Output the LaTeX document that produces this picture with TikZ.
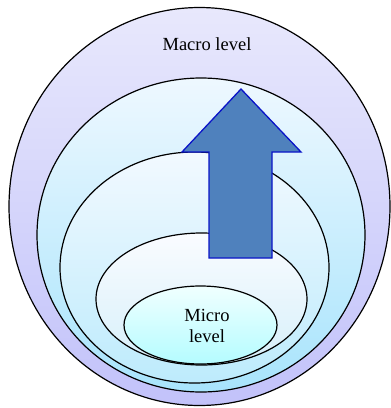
\documentclass[tikz,border=0pt]{standalone}
\usepackage{fontspec}
\setmainfont{Liberation Serif}
\definecolor{outtop}{HTML}{E8E8FC}
\definecolor{outbot}{HTML}{C2C2FA}
\definecolor{cyantop}{HTML}{EEF8FF}
\definecolor{cyanbot}{HTML}{A8E4FC}
\definecolor{midtop}{HTML}{F2F9FF}
\definecolor{midbot}{HTML}{BDEBFC}
\definecolor{lighttop}{HTML}{FAFCFF}
\definecolor{lightbot}{HTML}{D6EFFA}
\definecolor{microtop}{HTML}{F0FFFF}
\definecolor{microbot}{HTML}{B4FCFF}
\definecolor{arrowfill}{HTML}{4F81BD}
\definecolor{arrowline}{HTML}{0A14C8}
\tikzset{
  ring/.style={draw=black, line width=1.2pt},
  lbl/.style={font=\fontsize{18.5}{21}\selectfont, align=center, inner sep=0pt}
}
\begin{document}
\begin{tikzpicture}[x=1pt,y=-1pt]
\useasboundingbox (0,0) rectangle (391,408);
\path[ring, top color=outtop, bottom color=outbot] (199.5,206.5) ellipse [x radius=190.5pt, y radius=199pt];
\path[ring, top color=cyantop, bottom color=cyanbot] (201,235) ellipse [x radius=164pt, y radius=157pt];
\path[ring, top color=midtop, bottom color=midbot] (194.5,267.5) ellipse [x radius=134.5pt, y radius=115.5pt];
\path[ring, top color=lighttop, bottom color=lightbot] (201.5,299) ellipse [x radius=105.5pt, y radius=66pt];
\path[ring, top color=microtop, bottom color=microbot] (200.5,325) ellipse [x radius=76.5pt, y radius=39pt];
\draw[fill=arrowfill, draw=arrowline, line width=1.3pt, line join=miter]
  (241,89) -- (301,152) -- (272,152) -- (272,258) -- (209,258) -- (209,152) -- (182,152) -- cycle;
\node[lbl] (macro) at (207,44) {Macro level};
\node[lbl] (micro) at (207,325.5) {Micro\\level};
\end{tikzpicture}
\end{document}
